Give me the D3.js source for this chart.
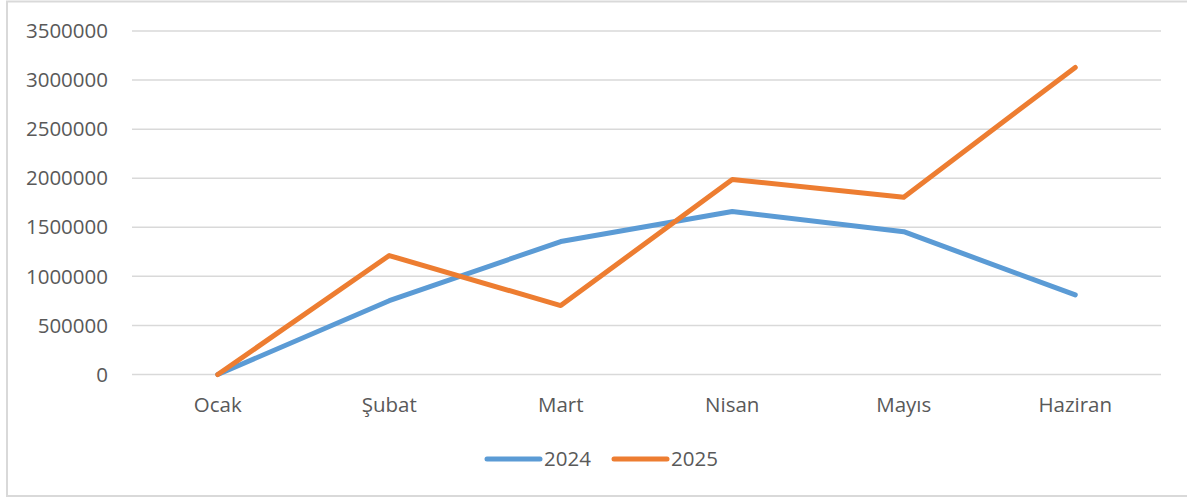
<!DOCTYPE html>
<html>
<head>
<meta charset="utf-8">
<script src="https://cdn.jsdelivr.net/npm/d3@7"></script>
<style>
  body { margin: 0; background: #fff; }
  text { font-family: "Open Sans", sans-serif; fill: #595959; }
</style>
</head>
<body>
<div id="chart"></div>
<script>
// data
var months = ["Ocak", "Şubat", "Mart", "Nisan", "Mayıs", "Haziran"];
var years = ["2024", "2025"];
var values2024 = [0, 752000, 1355000, 1661000, 1455000, 811000];
var values2025 = [0, 1212000, 702000, 1988000, 1807000, 3129000];
var yTicks = [0, 500000, 1000000, 1500000, 2000000, 2500000, 3000000, 3500000];
var colors = ["#5B9BD5", "#ED7D31"];

var width = 1187, height = 501;
var margin = {left: 132, right: 26, top: 31, bottom: 127};

var svg = d3.select("#chart").append("svg")
    .attr("width", width)
    .attr("height", height);

// chart frame
svg.append("rect")
    .attr("x", 7).attr("y", 1.5)
    .attr("width", 1200).attr("height", 494.5)
    .attr("fill", "none")
    .attr("stroke", "#d9d9d9")
    .attr("stroke-width", 2);

var x = d3.scalePoint()
    .domain(months)
    .range([margin.left, width - margin.right])
    .padding(0.5);

var y = d3.scaleLinear()
    .domain([0, 3500000])
    .range([height - margin.bottom + 0.5, margin.top]);

// gridlines
svg.append("g")
    .selectAll("line")
    .data(yTicks)
    .join("line")
      .attr("x1", margin.left)
      .attr("x2", width - margin.right)
      .attr("y1", d => y(d))
      .attr("y2", d => y(d))
      .attr("stroke", "#d9d9d9")
      .attr("stroke-width", 1.5);

// y labels
svg.append("g")
    .selectAll("text")
    .data(yTicks)
    .join("text")
      .attr("x", 108)
      .attr("y", d => y(d))
      .attr("dy", "0.35em")
      .attr("text-anchor", "end")
      .style("font-size", "20.5px")
      .text(d => d);

// x labels
svg.append("g")
    .selectAll("text")
    .data(months)
    .join("text")
      .attr("x", d => x(d))
      .attr("y", 405)
      .attr("dy", "0.35em")
      .attr("text-anchor", "middle")
      .style("font-size", "20.5px")
      .text(d => d);

var series = [values2024, values2025];

var line = d3.line()
    .x((d, i) => x(months[i]))
    .y(d => y(d));

svg.append("g")
    .selectAll("path")
    .data(series)
    .join("path")
      .attr("d", d => line(d))
      .attr("fill", "none")
      .attr("stroke", (d, i) => colors[i])
      .attr("stroke-width", 5)
      .attr("stroke-linejoin", "round")
      .attr("stroke-linecap", "round");

// legend
var legendX = [487, 614];
var leg = svg.append("g")
    .selectAll("g")
    .data(years)
    .join("g")
      .attr("transform", (d, i) => `translate(${legendX[i]},459)`);

leg.append("line")
    .attr("x1", 0).attr("x2", 53)
    .attr("stroke", (d, i) => colors[i])
    .attr("stroke-width", 5)
    .attr("stroke-linecap", "round");

leg.append("text")
    .attr("x", 57)
    .attr("dy", "0.35em")
    .style("font-size", "20.5px")
    .text(d => d);
</script>
</body>
</html>
